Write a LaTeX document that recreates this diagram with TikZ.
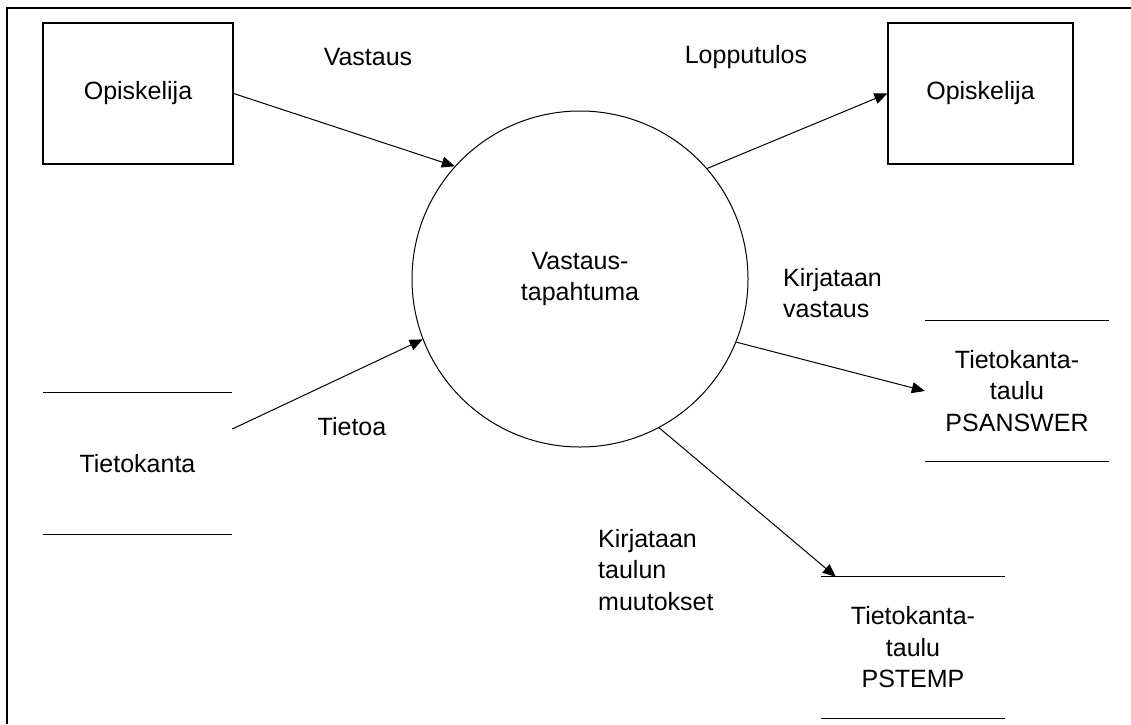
\documentclass[tikz,border=0pt]{standalone}
\usepackage{fontspec}
\setmainfont{Liberation Sans}
\usetikzlibrary{arrows.meta,calc}

\begin{document}
\begin{tikzpicture}[x=1pt,y=-1pt,
  every node/.style={font=\fontsize{25}{31.5}\selectfont, inner sep=0pt},
  entity/.style={draw, line width=1.3pt, minimum height=141pt},
  process/.style={circle, draw, line width=1pt, minimum size=336pt, align=center},
  store/.style={minimum width=186pt, minimum height=141pt, align=center},
  storeline/.style={line width=1.3pt},
  flow/.style={line width=1pt, -{Triangle[length=13pt,width=11pt]}},
  lbl/.style={align=left}
]
  % page and frame
  \useasboundingbox (0,0) rectangle (1131,724);
  \fill[white] (0,0) rectangle (1131,724);
  \draw[line width=2.2pt] (7,724) -- (7,8) -- (1131,8);

  % external entities
  \node[entity, minimum width=190pt] (stuIn)  at (138,93.5) {Opiskelija};
  \node[entity, minimum width=185pt] (stuOut) at (980.5,93.5) {Opiskelija};

  % process
  \node[process] (proc) at (580,279) {Vastaus-\\tapahtuma};

  % data stores
  \node[store, minimum width=189pt] (db)  at (137.5,463.5) {Tietokanta};
  \node[store, minimum width=184pt] (ans) at (1017,391) {Tietokanta-\\taulu\\PSANSWER};
  \node[store, minimum width=184pt] (tmp) at (913,647.5) {Tietokanta-\\taulu\\PSTEMP};
  \foreach \s in {db,ans,tmp}{
    \draw[storeline] (\s.north west) -- (\s.north east);
    \draw[storeline] (\s.south west) -- (\s.south east);
  }

  % data flows
  \draw[flow] (stuIn.east) -- (proc.138);
  \draw[flow] (proc.41.6) -- (stuOut.west);
  \draw[flow] (db.20) -- (proc.201);
  \draw[flow] (proc.338) -- (ans.west);
  \coordinate (tmpIn) at ($(tmp.north west)+(15,0)$);
  \draw[flow] (proc.298) -- (tmpIn);

  % flow labels
  \node (lVastaus) at (368,57) {Vastaus};
  \node (lLoppu) at (746,57) {Lopputulos};
  \node (lTietoa) at (352,427) {Tietoa};
  \node[lbl, anchor=west] (lKirjV) at (783,293) {Kirjataan\\vastaus};
  \node[lbl, anchor=west] (lKirjT) at (598,570) {Kirjataan\\taulun\\muutokset};
\end{tikzpicture}
\end{document}
